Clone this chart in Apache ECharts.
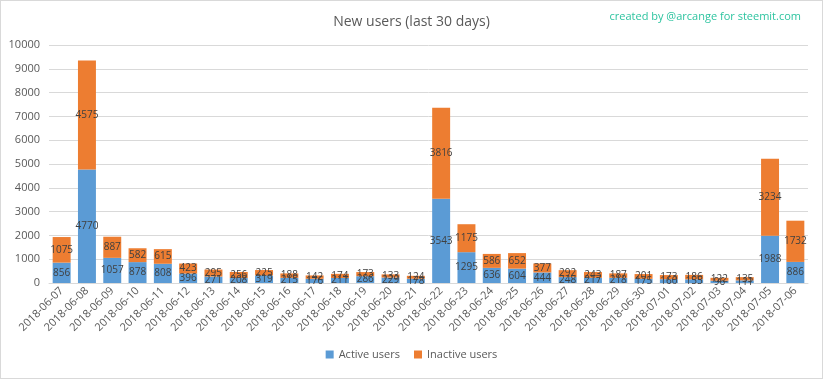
<!DOCTYPE html>
<html>
<head>
<meta charset="utf-8">
<script src="https://cdn.jsdelivr.net/npm/echarts@6/dist/echarts.min.js"></script>
<style>
html,body{margin:0;padding:0;background:#fff;}
#c{width:823px;height:379px;box-sizing:border-box;border:1px solid #d9d9d9;}
</style>
</head>
<body>
<div id="c"></div>
<script>
const categories = ["2018-06-07","2018-06-08","2018-06-09","2018-06-10","2018-06-11","2018-06-12","2018-06-13","2018-06-14","2018-06-15","2018-06-16","2018-06-17","2018-06-18","2018-06-19","2018-06-20","2018-06-21","2018-06-22","2018-06-23","2018-06-24","2018-06-25","2018-06-26","2018-06-27","2018-06-28","2018-06-29","2018-06-30","2018-07-01","2018-07-02","2018-07-03","2018-07-04","2018-07-05","2018-07-06"];
const activeUsers = [856,4770,1057,878,808,396,271,208,319,215,176,211,286,229,178,3543,1295,636,604,444,248,217,218,175,160,155,96,111,1988,886];
const inactiveUsers = [1075,4575,887,582,615,423,295,256,225,188,142,174,173,133,124,3816,1175,586,652,377,292,243,187,201,173,186,122,135,3234,1732];
const yTicks = [0,1000,2000,3000,4000,5000,6000,7000,8000,9000,10000];

const chart = echarts.init(document.getElementById('c'), null, {renderer:'canvas'});
const font = 'Open Sans';
const lbl = {show:true, position:'inside', color:'#404040', fontSize:10, fontFamily:font};
chart.setOption({
  animation:false,
  backgroundColor:'#fff',
  title:[
    {text:'New users (last 30 days)', left:'center', top:9, textStyle:{fontSize:14, fontWeight:'normal', color:'#595959', fontFamily:font}},
    {text:'created by @arcange for steemit.com', right:16, top:5, textStyle:{fontSize:11, fontWeight:'normal', color:'#2ec4a0', fontFamily:font}}
  ],
  legend:{bottom:13, left:'center', itemWidth:8, itemHeight:8, itemGap:14, icon:'rect',
    textStyle:{fontSize:11, color:'#595959', fontFamily:font},
    data:['Active users','Inactive users']},
  grid:{left:48, right:14, top:44, bottom:95},
  xAxis:{type:'category', data:categories,
    axisLine:{lineStyle:{color:'#d9d9d9'}}, axisTick:{show:false},
    axisLabel:{rotate:45, fontSize:11, color:'#595959', fontFamily:font, interval:0, margin:6}},
  yAxis:{type:'value', min:yTicks[0], max:yTicks[yTicks.length-1], interval:1000,
    axisLine:{show:false}, axisTick:{show:false},
    splitLine:{lineStyle:{color:'#d9d9d9'}},
    axisLabel:{fontSize:11, color:'#595959', fontFamily:font, margin:9, formatter:v=>String(v)}},
  series:[
    {name:'Active users', type:'bar', stack:'s', data:activeUsers, barCategoryGap:'29%', itemStyle:{color:'#5b9bd5'}, label:lbl},
    {name:'Inactive users', type:'bar', stack:'s', data:inactiveUsers, itemStyle:{color:'#ed7d31'}, label:lbl}
  ]
});
</script>
</body>
</html>
